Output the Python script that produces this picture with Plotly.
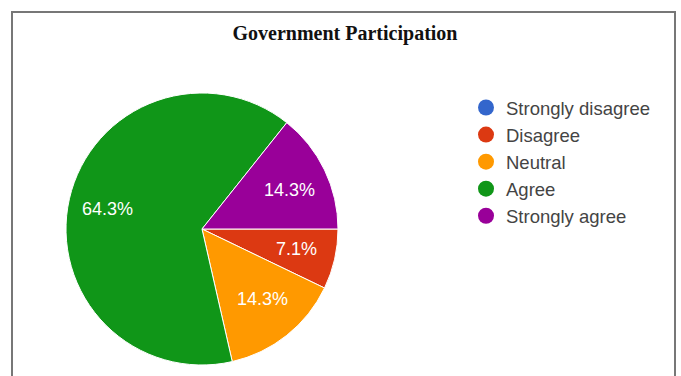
import math
import plotly.graph_objects as go

labels = ["Strongly disagree", "Disagree", "Neutral", "Agree", "Strongly agree"]
values = [0, 1, 2, 9, 2]
colors = ["#3366cc", "#dc3912", "#ff9900", "#109618", "#990099"]
title = "Government Participation"

W, H = 681, 376
cx, cy, r = 202, 229, 136
start_deg = 90  # first slice starts at 3 o'clock, clockwise

fig = go.Figure()
fig.add_trace(go.Pie(
    labels=labels, values=values, sort=False, direction="clockwise", rotation=start_deg,
    marker=dict(colors=colors, line=dict(color="white", width=1)),
    textinfo="none",
    domain=dict(x=[(cx - r) / W, (cx + r) / W], y=[(H - cy - r) / H, (H - cy + r) / H]),
    showlegend=False, hoverinfo="skip",
))

# percentage labels placed along each slice's mid-angle (Google-chart style)
total = sum(values)
acc = 0
for v in values:
    if v > 0:
        mid = start_deg + 360 * (acc + v / 2) / total
        a = math.radians(mid)
        px = cx + 0.69 * 140 * math.sin(a)
        py = cy - 0.69 * 130 * math.cos(a)
        fig.add_annotation(x=px / W, y=1 - py / H, xref="paper", yref="paper",
                           xanchor="center", yanchor="middle",
                           text=f"{100 * v / total:.1f}%", showarrow=False,
                           font=dict(family="Liberation Sans, Arial", size=18, color="white"))
    acc += v

for lab, col in zip(labels, colors):
    fig.add_trace(go.Scatter(x=[None], y=[None], mode="markers", name=lab,
                             marker=dict(symbol="circle", size=16, color=col)))

fig.add_shape(type="rect", xref="paper", yref="paper",
              x0=12 / W, x1=675 / W, y0=-0.05, y1=1 - 12 / H,
              line=dict(color="#777777", width=2), fillcolor="rgba(0,0,0,0)")

fig.update_layout(
    width=W, height=H, margin=dict(l=0, r=0, t=0, b=0),
    paper_bgcolor="white", plot_bgcolor="white",
    title=dict(text="<b>" + title + "</b>", x=345 / W, xanchor="center", y=1 - 33 / H, yanchor="middle",
               font=dict(family="Liberation Serif, Times New Roman", size=20, color="#111111")),
    xaxis=dict(visible=False), yaxis=dict(visible=False),
    legend=dict(x=466 / W, xanchor="left", y=1 - 89 / H, yanchor="top",
                font=dict(family="Liberation Sans, Arial", size=18.5, color="#444444"),
                itemwidth=30, tracegroupgap=0, bgcolor="rgba(0,0,0,0)"),
    showlegend=True,
)
fig.write_html("out.html")
